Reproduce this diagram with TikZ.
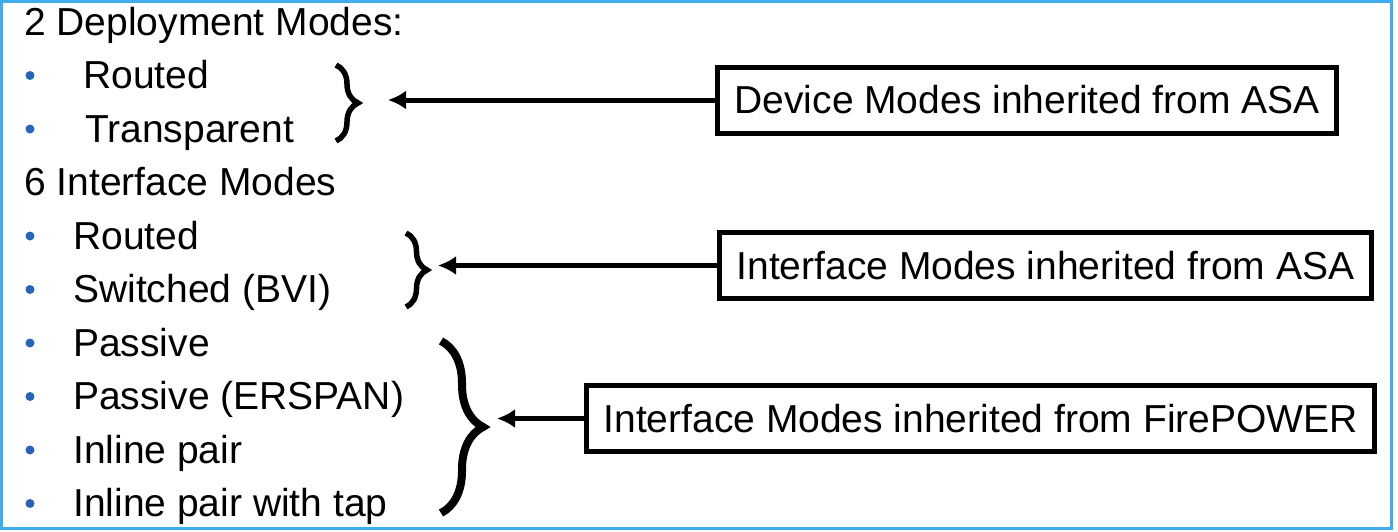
\documentclass[tikz,border=0pt]{standalone}
\usepackage{fontspec}
\setmainfont{Liberation Sans}
\usepackage{tikz}
\usetikzlibrary{arrows.meta,decorations.pathreplacing}
\definecolor{framecolor}{RGB}{64,172,236}
\definecolor{dotcolor}{RGB}{38,100,186}

\begin{document}
\begin{tikzpicture}[x=1pt, y=-1pt, font=\fontsize{39}{47}\selectfont]
        \tikzstyle{item} = [inner sep=0pt, anchor=base west]
        \tikzstyle{dot} = [circle, fill=dotcolor, inner sep=0pt, minimum size=9pt]
        \tikzstyle{block} = [rectangle, draw, line width=5pt, inner xsep=17pt, minimum height=66pt, anchor=west]
        \tikzstyle{bracket} = [draw, decorate, line width=5.5pt]
        \tikzstyle{line} = [draw, line width=5pt, -{Latex[length=18pt, width=19pt]}]

    \useasboundingbox (0,0) rectangle (1398,531);
    \draw [framecolor, line width=2.5pt] (1.5,1.5) rectangle (1391.5,528.5);

    \node [item] at (24,35) (deploy_title) {2 Deployment Modes:};
    \node [dot] at (30,75.5) (dot_dep_routed) {};
    \node [item] at (83,88.5) (dep_routed) {Routed};
    \node [dot] at (30,129) (dot_dep_transparent) {};
    \node [item] at (85,142) (dep_transparent) {Transparent};

    \node [item] at (24,195.5) (intf_title) {6 Interface Modes};
    \node [dot] at (30,236) (dot_intf_routed) {};
    \node [item] at (73,249) (intf_routed) {Routed};
    \node [dot] at (30,289.5) (dot_intf_switched) {};
    \node [item] at (73,302.5) (intf_switched) {Switched (BVI)};
    \node [dot] at (30,343) (dot_passive) {};
    \node [item] at (73,356) (passive) {Passive};
    \node [dot] at (30,396.5) (dot_passive_erspan) {};
    \node [item] at (73,409.5) (passive_erspan) {Passive (ERSPAN)};
    \node [dot] at (30,450) (dot_inline) {};
    \node [item] at (73,463) (inline) {Inline pair};
    \node [dot] at (30,503.5) (dot_inline_tap) {};
    \node [item] at (73,516.5) (inline_tap) {Inline pair with tap};

    \draw [bracket, decoration={brace, amplitude=22pt}] (336,65) -- (336,141);
    \draw [bracket, decoration={brace, amplitude=21pt}] (406,233) -- (406,307);
    \draw [bracket, line width=8pt, decoration={brace, amplitude=42pt}] (441,341) -- (441,513);

    \node [block] at (715,100) (device_box) {Device Modes inherited from ASA};
    \node [block] at (717,265.5) (asa_box) {Interface Modes inherited from ASA};
    \node [block] at (584,418.5) (firepower_box) {Interface Modes inherited from FirePOWER};

    \coordinate (device_tip) at (388,100);
    \coordinate (asa_tip) at (438,265.5);
    \coordinate (firepower_tip) at (497,418.5);

    \path [line] (device_box.west) -- (device_tip);
    \path [line] (asa_box.west) -- (asa_tip);
    \path [line] (firepower_box.west) -- (firepower_tip);

\end{tikzpicture}
\end{document}
